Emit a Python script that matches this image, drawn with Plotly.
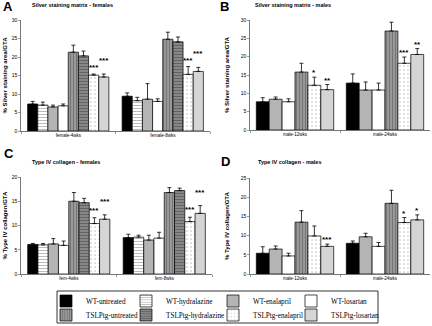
import plotly.graph_objects as go

W, H = 432, 326

# ---------------- data ----------------
series = ["WT-untreated", "WT-hydralazine", "WT-enalapril", "WT-losartan",
          "TSLPtg-untreated", "TSLPtg-hydralazine", "TSLPtg-enalapril", "TSLPtg-losartan"]

# Panel A: Silver staining matrix - females (all 8 series)
a_categories = ["female-4wks", "female-8wks"]
a_series = [0, 1, 2, 3, 4, 5, 6, 7]
a_values = [[7.3, 9.4], [7.0, 8.2], [6.5, 8.6], [6.8, 8.0],
            [21.3, 24.8], [20.3, 24.1], [15.1, 15.3], [14.6, 16.1]]
a_errors = [[0.7, 0.9], [0.8, 0.9], [0.5, 4.2], [0.5, 0.7],
            [1.9, 1.9], [1.3, 1.3], [0.3, 2.1], [0.8, 1.1]]
a_stars = [["", ""], ["", ""], ["", ""], ["", ""],
           ["", ""], ["", ""], ["***", "***"], ["***", "***"]]

# Panel B: Silver staining matrix - males (no hydralazine)
b_categories = ["male-12wks", "male-24wks"]
b_series = [0, 2, 3, 4, 6, 7]
b_values = [[7.7, 12.8], [8.4, 10.9], [7.7, 10.9],
            [15.8, 27.0], [12.2, 18.2], [11.0, 20.6]]
b_errors = [[1.1, 2.5], [0.6, 2.2], [0.8, 1.9],
            [2.4, 2.4], [2.2, 1.7], [1.4, 1.6]]
b_stars = [["", ""], ["", ""], ["", ""],
           ["", ""], ["*", "***"], ["**", "**"]]

# Panel C: Type IV collagen - females
c_categories = ["fem-4wks", "fem-8wks"]
c_series = [0, 1, 2, 3, 4, 5, 6, 7]
c_values = [[6.1, 7.5], [6.0, 7.6], [6.2, 7.0], [5.9, 7.4],
            [15.0, 16.8], [14.7, 17.2], [10.4, 10.8], [11.3, 12.5]]
c_errors = [[0.2, 0.7], [0.3, 0.4], [1.1, 1.0], [0.9, 1.2],
            [1.8, 1.0], [0.9, 0.5], [1.2, 0.9], [0.9, 1.6]]
c_stars = [["", ""], ["", ""], ["", ""], ["", ""],
           ["", ""], ["", ""], ["***", "***"], ["***", "***"]]

# Panel D: Type IV collagen - males
d_categories = ["male-12wks", "male-24wks"]
d_series = [0, 2, 3, 4, 6, 7]
d_values = [[5.4, 8.0], [6.5, 9.7], [4.7, 7.2],
            [13.5, 18.4], [9.9, 13.4], [7.2, 14.1]]
d_errors = [[1.7, 0.6], [0.8, 0.9], [0.7, 1.0],
            [3.0, 3.4], [2.6, 1.3], [0.6, 1.3]]
d_stars = [["", ""], ["", ""], ["", ""], ["", ""], ["", "*"], ["***", "*"]]

# ---------------- styles ----------------
styles = [
    dict(color="#000000"),
    dict(color="#ffffff", pattern=dict(shape="-", fgcolor="#7a7a7a", bgcolor="#ffffff", size=3, solidity=0.35)),
    dict(color="#b4b4b4"),
    dict(color="#ffffff"),
    dict(color="#8e8e8e", pattern=dict(shape="|", fgcolor="#4e4e4e", bgcolor="#9c9c9c", size=3, solidity=0.4)),
    dict(color="#6e6e6e", pattern=dict(shape="-", fgcolor="#3e3e3e", bgcolor="#8a8a8a", size=3, solidity=0.4)),
    dict(color="#ffffff", pattern=dict(shape=".", fgcolor="#8a8a8a", bgcolor="#ffffff", size=4, solidity=0.15)),
    dict(color="#dcdcdc", pattern=dict(shape=".", fgcolor="#8f8f8f", bgcolor="#e4e4e4", size=2, solidity=0.35)),
]

BARGAP = 0.14
SANS = "Liberation Sans"
SERIF = "Liberation Serif"


def px_x(v):
    return v / W


def px_y(v):
    return 1 - v / H


panels = [
    dict(cats=a_categories, idx=a_series, vals=a_values, errs=a_errors, stars=a_stars,
         xa="x", ya="y", yrange=[0, 30], dtick=5, ytitle="% Silver staining area/GTA",
         xdom=[21, 210], ydom=[131, 20], standoff=3, star_shift=[0, 0, 0, 0, 0, 0, 2, 9]),
    dict(cats=b_categories, idx=b_series, vals=b_values, errs=b_errors, stars=b_stars,
         xa="x2", ya="y2", yrange=[0, 30], dtick=5, ytitle="% Silver staining area/GTA",
         xdom=[250, 430], ydom=[130, 20], standoff=10, star_shift=[0, 0, 0, 0, 0, 0]),
    dict(cats=c_categories, idx=c_series, vals=c_values, errs=c_errors, stars=c_stars,
         xa="x3", ya="y3", yrange=[0, 20], dtick=5, ytitle="% Type IV collagen/GTA",
         xdom=[21, 212], ydom=[274, 177], standoff=3, star_shift=[0, 0, 0, 0, 0, 0, 3, 9]),
    dict(cats=d_categories, idx=d_series, vals=d_values, errs=d_errors, stars=d_stars,
         xa="x4", ya="y4", yrange=[0, 25], dtick=5, ytitle="% Type IV collagen/GTA",
         xdom=[250, 430], ydom=[274, 178], standoff=10, star_shift=[0, 0, 0, 0, 0, 0]),
]

fig = go.Figure()
annotations = []

for p_i, p in enumerate(panels):
    n = len(p["idx"])
    for k, si in enumerate(p["idx"]):
        st = styles[si]
        marker = dict(color=st["color"], line=dict(color="#000000", width=0.7))
        if "pattern" in st:
            marker["pattern"] = st["pattern"]
        fig.add_trace(go.Bar(
            x=p["cats"], y=p["vals"][k], name=series[si],
            marker=marker,
            error_y=dict(type="data", array=p["errs"][k], arrayminus=[0] * len(p["cats"]),
                         symmetric=False, color="#000000", thickness=0.8, width=2),
            xaxis=p["xa"], yaxis=p["ya"],
            showlegend=(p_i == 0),
            legend=("legend" if si == 0 else f"legend{si + 1}"),
            hoverinfo="skip",
        ))
        for ci, s in enumerate(p["stars"][k]):
            if s:
                xc = ci - (1 - BARGAP) / 2 + (k + 0.5) * (1 - BARGAP) / n
                annotations.append(dict(
                    x=xc, y=p["vals"][k][ci] + p["errs"][k][ci],
                    xref=p["xa"], yref=p["ya"], text="<b>" + s + "</b>",
                    showarrow=False, yanchor="bottom", xanchor="center",
                    yshift=p["star_shift"][k] - 2,
                    font=dict(family=SANS, size=8, color="#000000"),
                ))

layout_axes = {}
for p_i, p in enumerate(panels):
    sfx = "" if p_i == 0 else str(p_i + 1)
    layout_axes["xaxis" + sfx] = dict(
        domain=[px_x(p["xdom"][0]), px_x(p["xdom"][1])], anchor=p["ya"],
        type="category", showline=True, linecolor="#555555", linewidth=0.8,
        ticks="outside", tickson="boundaries", ticklen=2, tickwidth=0.6, tickcolor="#555555",
        tickfont=dict(family=SANS, size=4.5, color="#000000"), showgrid=False, zeroline=False,
        fixedrange=True, automargin=False,
    )
    layout_axes["yaxis" + sfx] = dict(
        domain=[px_y(p["ydom"][0]), px_y(p["ydom"][1])], anchor=p["xa"],
        range=p["yrange"], dtick=p["dtick"], showline=True, linecolor="#555555", linewidth=0.8,
        ticks="outside", ticklen=2, tickwidth=0.6, tickcolor="#555555",
        tickfont=dict(family=SANS, size=5, color="#000000"), showgrid=False, zeroline=False,
        title=dict(text=p["ytitle"], standoff=p["standoff"],
                   font=dict(family=SANS, size=6, color="#000000", weight="bold")),
        fixedrange=True, automargin=False,
    )

# Panel letters and subtitles
heads = [
    ("A", 1, 6, "Silver staining matrix - females", 30, 5),
    ("B", 218, 7, "Silver staining matrix - males", 253, 5),
    ("C", 2, 154, "Type IV collagen - females", 30, 162),
    ("D", 219, 161, "Type IV collagen - males", 256, 162),
]
for letter, lx, ly, sub, sx, sy in heads:
    annotations.append(dict(x=px_x(lx), y=px_y(ly), xref="paper", yref="paper", text="<b>" + letter + "</b>",
                            showarrow=False, xanchor="left", yanchor="middle",
                            font=dict(family=SANS, size=13, color="#000000")))
    annotations.append(dict(x=px_x(sx), y=px_y(sy), xref="paper", yref="paper", text="<b>" + sub + "</b>",
                            showarrow=False, xanchor="left", yanchor="middle",
                            font=dict(family=SANS, size=5.5, color="#000000")))

# Legends: one per entry, laid out in 2 rows x 4 columns
leg_cols = [46, 126, 213, 291]
leg_rows = [301, 315]
legends = {}
for si in range(8):
    key = "legend" if si == 0 else f"legend{si + 1}"
    col = si % 4
    row = si // 4
    legends[key] = dict(
        x=px_x(leg_cols[col]), y=px_y(leg_rows[row]), xanchor="left", yanchor="middle",
        bgcolor="rgba(0,0,0,0)", borderwidth=0, itemwidth=30,
        font=dict(family=SERIF, size=7.2, color="#000000"),
        itemclick=False, itemdoubleclick=False,
    )

fig.update_layout(
    width=W, height=H, margin=dict(l=0, r=0, t=0, b=0, autoexpand=False),
    paper_bgcolor="#ffffff", plot_bgcolor="#ffffff",
    barmode="group", bargap=BARGAP, bargroupgap=0,
    annotations=annotations,
    shapes=[dict(type="rect", xref="paper", yref="paper",
                 x0=px_x(57), x1=px_x(378), y0=px_y(323), y1=px_y(291),
                 line=dict(color="#333333", width=1), fillcolor="rgba(0,0,0,0)")],
    **layout_axes, **legends,
)

fig.write_html("out.html", config={"staticPlot": True},
               post_script="document.body.style.margin='0px';document.body.style.overflow='hidden';")
